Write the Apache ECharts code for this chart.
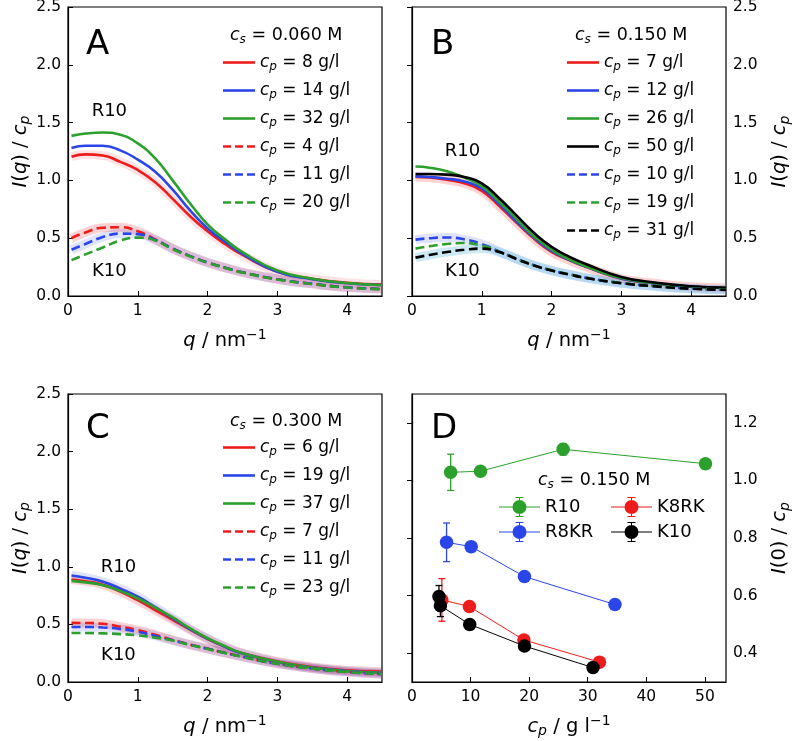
<!DOCTYPE html>
<html>
<head>
<meta charset="utf-8">
<script src="https://cdn.jsdelivr.net/npm/echarts@6/dist/echarts.min.js"></script>
<style>html,body{margin:0;padding:0;background:#fff}#c{width:793px;height:741px}</style>
</head>
<body>
<div id="c"></div>
<script>
// ---------------- DATA ----------------
const q = [0.05, 0.25, 0.5, 0.75, 1.0, 1.25, 1.5, 1.75, 2.0, 2.25, 2.5, 3.0, 3.5, 4.0, 4.5];

// Panel A, cs = 0.060 M
const A_cs = '0.060';
const A_R10_cp = [8, 14, 32];
const A_R10_red   = [1.205,1.225,1.215,1.16,1.09,0.985,0.84,0.69,0.56,0.45,0.355,0.21,0.15,0.115,0.10];
const A_R10_blue  = [1.28,1.30,1.30,1.26,1.18,1.075,0.92,0.74,0.585,0.47,0.365,0.21,0.145,0.11,0.095];
const A_R10_green = [1.385,1.405,1.415,1.394,1.32,1.19,1.00,0.80,0.62,0.49,0.38,0.22,0.15,0.112,0.093];
const A_K10_cp = [4, 11, 20];
const A_K10_red   = [0.50,0.55,0.59,0.595,0.56,0.49,0.41,0.345,0.29,0.245,0.205,0.145,0.105,0.075,0.06];
const A_K10_blue  = [0.40,0.45,0.51,0.54,0.535,0.485,0.41,0.345,0.29,0.245,0.205,0.145,0.105,0.075,0.06];
const A_K10_green = [0.31,0.36,0.42,0.48,0.505,0.48,0.405,0.343,0.288,0.243,0.203,0.143,0.103,0.073,0.058];

// Panel B, cs = 0.150 M
const B_cs = '0.150';
const B_R10_cp = [7, 12, 26, 50];
const B_R10_red   = [1.03,1.025,1.005,0.975,0.91,0.778,0.633,0.495,0.382,0.31,0.25,0.15,0.108,0.08,0.07];
const B_R10_blue  = [1.035,1.03,1.015,0.99,0.93,0.795,0.645,0.505,0.39,0.315,0.252,0.152,0.108,0.08,0.07];
const B_R10_green = [1.12,1.11,1.08,1.025,0.95,0.815,0.665,0.515,0.40,0.318,0.255,0.155,0.11,0.08,0.07];
const B_R10_black = [1.055,1.055,1.05,1.03,0.975,0.845,0.695,0.545,0.425,0.34,0.275,0.165,0.115,0.085,0.072];
const B_K10_cp = [10, 19, 31];
const B_K10_blue  = [0.488,0.50,0.506,0.49,0.45,0.385,0.322,0.265,0.222,0.188,0.157,0.112,0.085,0.065,0.055];
const B_K10_green = [0.41,0.43,0.45,0.458,0.435,0.383,0.322,0.265,0.222,0.188,0.157,0.112,0.085,0.065,0.055];
const B_K10_black = [0.332,0.355,0.38,0.40,0.41,0.38,0.32,0.263,0.22,0.186,0.155,0.11,0.083,0.063,0.053];

// Panel C, cs = 0.300 M
const C_cs = '0.300';
const C_R10_cp = [6, 19, 37];
const C_R10_red   = [0.89,0.875,0.845,0.785,0.71,0.625,0.54,0.455,0.373,0.305,0.25,0.178,0.13,0.102,0.09];
const C_R10_blue  = [0.925,0.905,0.87,0.81,0.74,0.65,0.555,0.46,0.377,0.305,0.247,0.172,0.125,0.095,0.08];
const C_R10_green = [0.878,0.865,0.84,0.79,0.725,0.645,0.56,0.465,0.38,0.31,0.25,0.175,0.125,0.093,0.08];
const C_K10_cp = [7, 11, 23];
const C_K10_red   = [0.513,0.512,0.505,0.48,0.45,0.41,0.365,0.325,0.29,0.253,0.22,0.16,0.118,0.088,0.07];
const C_K10_blue  = [0.478,0.478,0.473,0.46,0.435,0.40,0.362,0.323,0.288,0.252,0.219,0.159,0.117,0.087,0.069];
const C_K10_green = [0.425,0.425,0.422,0.416,0.405,0.385,0.36,0.322,0.287,0.251,0.218,0.158,0.116,0.086,0.068];

// Panel D, cs = 0.150 M, I(0)/cp vs cp
const D_cs = '0.150';
const D_R10_cp  = [6.6, 11.7, 25.8, 50.1];
const D_R10_I0  = [1.028, 1.032, 1.108, 1.058];
const D_R10_err = [0.063, 0, 0.02, 0];
const D_R8KR_cp  = [5.9, 10.1, 19.2, 34.65];
const D_R8KR_I0  = [0.785, 0.77, 0.666, 0.569];
const D_R8KR_err = [0.067, 0, 0, 0];
const D_K8RK_cp  = [5.1, 9.8, 19.1, 32.0];
const D_K8RK_I0  = [0.585, 0.562, 0.446, 0.369];
const D_K8RK_err = [0.074, 0, 0, 0];
const D_K10_cp  = [4.6, 4.85, 9.85, 19.2, 30.9];
const D_K10_I0  = [0.597, 0.565, 0.50, 0.425, 0.35];
const D_K10_err = [0.038, 0.038, 0, 0, 0];

const qTicksMax = 4.5, IqMax = 2.5;
const cpMax = 53.6, I0Min = 0.3, I0Max = 1.3;

// ---------------- STYLE ----------------
const FONT = 'DejaVu Sans';
const COL = {red: '#ee1c1c', blue: '#2b46e8', green: '#2ca02c', black: '#000000'};
const DASH = [9, 4.5];
const ICON_SOLID = 'path://M0 0H32V2.6H0Z';
const ICON_DASH = 'path://M0 0H8V2.6H0Z M12 0H20V2.6H12Z M24 0H32V2.6H24Z';

function richSet(size) {
  return {
    i:   {fontFamily: FONT, fontStyle: 'italic', fontWeight: 'normal', fontSize: size, color: '#000'},
    n:   {fontFamily: FONT, fontWeight: 'normal', fontSize: size, color: '#000'},
    sub: {fontFamily: FONT, fontStyle: 'italic', fontWeight: 'normal', fontSize: Math.round(size * 0.7), padding: [Math.round(size*0.5), 0, 0, 0], color: '#000'},
    sup: {fontFamily: FONT, fontWeight: 'normal', fontSize: Math.round(size * 0.7), padding: [0, 0, Math.round(size*0.55), 0], color: '#000'}
  };
}
const cpLabel = v => '{i|c}{sub|p}{n| = ' + v + ' g/l}';
const csLabel = v => '{i|c}{sub|s}{n| = ' + v + ' M}';

const GRIDS = [
  {left: 68, top: 7, width: 314, height: 289},
  {left: 412, top: 7, width: 314, height: 289},
  {left: 68, top: 394, width: 314, height: 288},
  {left: 412, top: 394, width: 314, height: 288}
];

const labelNames = {};
const series = [];
const legends = [];

function zip(xs, ys) { return xs.map((x, i) => [x, ys[i]]); }

function addCurve(panel, gi, cp, dashed, color, vals, band) {
  const name = panel + (dashed ? 'K' : 'R') + cp;
  labelNames[name] = cpLabel(cp);
  const data = zip(q, vals);
  if (band) {
    series.push({
      type: 'line', name: name + '_band', xAxisIndex: gi, yAxisIndex: gi, data: data,
      smooth: 0.5, symbol: 'none', silent: true, z: 1,
      lineStyle: {color: band[0], width: 9, opacity: band[1]}, itemStyle: {color: band[0]}
    });
  }
  series.push({
    type: 'line', name: name, xAxisIndex: gi, yAxisIndex: gi, data: data,
    smooth: 0.5, symbol: 'none', showSymbol: false, z: 3,
    lineStyle: {color: color, width: 2.6, type: dashed ? DASH : 'solid'},
    itemStyle: {color: color}
  });
  return {name: name, icon: dashed ? ICON_DASH : ICON_SOLID};
}

function addPanel(panel, gi, solidCp, solidSets, dashCp, dashSets, legendLeft, legendTop) {
  const items = [];
  solidSets.forEach((s, k) => items.push(addCurve(panel, gi, solidCp[k], false, s[0], s[1], s[2])));
  dashSets.forEach((s, k) => items.push(addCurve(panel, gi, dashCp[k], true, s[0], s[1], s[2])));
  legends.push({
    data: items, orient: 'vertical', left: legendLeft, top: legendTop, padding: 0,
    itemWidth: 32, itemHeight: 14, itemGap: 9, selectedMode: false,
    formatter: n => labelNames[n],
    textStyle: {fontFamily: FONT, fontSize: 17, color: '#000', rich: richSet(17)}
  });
}

const PINK = [COL.red, 0.2], LBLUE = [COL.blue, 0.15], CYAN = ['#6fc3df', 0.35];
addPanel('A', 0, A_R10_cp,
  [[COL.red, A_R10_red, [COL.red, 0.12]], [COL.blue, A_R10_blue, null], [COL.green, A_R10_green, null]],
  A_K10_cp,
  [[COL.red, A_K10_red, PINK], [COL.blue, A_K10_blue, LBLUE], [COL.green, A_K10_green, null]], 223, 54);
addPanel('B', 1, B_R10_cp,
  [[COL.red, B_R10_red, PINK], [COL.blue, B_R10_blue, null], [COL.green, B_R10_green, null], [COL.black, B_R10_black, null]],
  B_K10_cp,
  [[COL.blue, B_K10_blue, LBLUE], [COL.green, B_K10_green, null], [COL.black, B_K10_black, CYAN]], 567, 54);
addPanel('C', 2, C_R10_cp,
  [[COL.red, C_R10_red, PINK], [COL.blue, C_R10_blue, LBLUE], [COL.green, C_R10_green, null]],
  C_K10_cp,
  [[COL.red, C_K10_red, PINK], [COL.blue, C_K10_blue, LBLUE], [COL.green, C_K10_green, null]], 223, 439);

// Panel D
const errPath = 'path://M0 9.5H41V10.5H0Z M20 0H21V20H20Z M16.5 0H24.5V1H16.5Z M16.5 19H24.5V20H16.5Z M13.5 10A7 7 0 1 1 27.5 10A7 7 0 1 1 13.5 10Z';
function addD(name, color, cps, vals, errs, z) {
  series.push({
    type: 'line', name: name, xAxisIndex: 3, yAxisIndex: 3, data: zip(cps, vals),
    symbol: 'circle', symbolSize: 13.5, z: z,
    lineStyle: {color: color, width: 1}, itemStyle: {color: color}
  });
  const ed = cps.map((c, i) => [c, vals[i] - errs[i], vals[i] + errs[i]]).filter((d, i) => errs[i] > 0);
  series.push({
    type: 'custom', name: name + '_err', xAxisIndex: 3, yAxisIndex: 3, data: ed, z: z, silent: true,
    renderItem: function (params, api) {
      const x = api.value(0);
      const lo = api.coord([x, api.value(1)]);
      const hi = api.coord([x, api.value(2)]);
      const st = {stroke: color, lineWidth: 1.3};
      return {type: 'group', children: [
        {type: 'line', shape: {x1: lo[0], y1: lo[1], x2: hi[0], y2: hi[1]}, style: st},
        {type: 'line', shape: {x1: lo[0] - 3.5, y1: lo[1], x2: lo[0] + 3.5, y2: lo[1]}, style: st},
        {type: 'line', shape: {x1: hi[0] - 3.5, y1: hi[1], x2: hi[0] + 3.5, y2: hi[1]}, style: st}
      ]};
    }
  });
}
addD('R10', COL.green, D_R10_cp, D_R10_I0, D_R10_err, 4);
addD('R8KR', COL.blue, D_R8KR_cp, D_R8KR_I0, D_R8KR_err, 5);
addD('K8RK', COL.red, D_K8RK_cp, D_K8RK_I0, D_K8RK_err, 6);
addD('K10', COL.black, D_K10_cp, D_K10_I0, D_K10_err, 7);

const dLegendBase = {
  orient: 'vertical', padding: 0, itemWidth: 41, itemHeight: 20, itemGap: 5, selectedMode: false,
  icon: errPath,
  textStyle: {fontFamily: FONT, fontSize: 18, color: '#000'}
};
legends.push(Object.assign({}, dLegendBase, {data: ['R10', 'R8KR'], left: 499, top: 497}));
legends.push(Object.assign({}, dLegendBase, {data: ['K8RK', 'K10'], left: 611, top: 497}));

// R10 / K10 annotations (data coordinates)
const annot = [
  [0, 0.6, 1.59, 'R10'], [0, 0.6, 0.205, 'K10'],
  [1, 0.73, 1.245, 'R10'], [1, 0.73, 0.205, 'K10'],
  [2, 0.73, 0.99, 'R10'], [2, 0.73, 0.23, 'K10']
];
[0, 1, 2].forEach(gi => {
  series.push({
    type: 'scatter', xAxisIndex: gi, yAxisIndex: gi, symbolSize: 1, silent: true, z: 10,
    itemStyle: {color: 'rgba(0,0,0,0)'},
    data: annot.filter(a => a[0] === gi).map(a => [a[1], a[2], a[3]]),
    label: {show: true, position: [0, 0], align: 'center', verticalAlign: 'middle',
            formatter: p => p.data[2], fontFamily: FONT, fontSize: 18, fontWeight: 'normal',
            color: '#000', opacity: 1, textBorderWidth: 0}
  });
});

// ---------------- AXES ----------------
const tick = {show: true, inside: true, length: 5, lineStyle: {color: '#000', width: 1}};
const axLine = {show: true, lineStyle: {color: '#000', width: 1.2}};
const lab = {fontFamily: FONT, fontSize: 15.5, color: '#000'};

function qAxis(gi) {
  return {
    type: 'value', gridIndex: gi, min: 0, max: qTicksMax, interval: 1,
    axisLine: axLine, axisTick: tick, splitLine: {show: false},
    axisLabel: Object.assign({margin: 7, showMaxLabel: false, formatter: v => String(v)}, lab),
    name: '{i|q}{n| / nm}{sup|−1}', nameLocation: 'middle', nameGap: 32,
    nameTextStyle: {rich: richSet(19.5)}
  };
}
function iqAxis(gi, right) {
  return {
    type: 'value', gridIndex: gi, min: 0, max: IqMax, interval: 0.5, position: right ? 'right' : 'left',
    axisLine: axLine, axisTick: tick, splitLine: {show: false},
    axisLabel: Object.assign({margin: 7, formatter: v => v.toFixed(1)}, lab),
    name: '{i|I}{n|(}{i|q}{n|) / }{i|c}{sub|p}', nameLocation: 'middle', nameRotate: 90,
    nameGap: right ? 42 : 35,
    nameTextStyle: {rich: richSet(19.5)}
  };
}

const letterStyle = {fontFamily: FONT, fontSize: 34, fontWeight: 'normal', color: '#000'};
const option = {
  animation: false,
  backgroundColor: '#fff',
  grid: GRIDS.map(g => Object.assign({show: true, borderColor: '#000', borderWidth: 1.2,
    backgroundColor: 'transparent', containLabel: false, outerBoundsMode: 'none'}, g)),
  xAxis: [qAxis(0), qAxis(1), qAxis(2), {
    type: 'value', gridIndex: 3, min: 0, max: cpMax, interval: 10,
    axisLine: axLine, axisTick: tick, splitLine: {show: false},
    axisLabel: Object.assign({margin: 7, showMaxLabel: false, formatter: v => String(v)}, lab),
    name: '{i|c}{sub|p}{n| / g l}{sup|−1}', nameLocation: 'middle', nameGap: 32,
    nameTextStyle: {rich: richSet(19.5)}
  }],
  yAxis: [iqAxis(0, false), iqAxis(1, true), iqAxis(2, false), {
    type: 'value', gridIndex: 3, min: I0Min, max: I0Max, splitNumber: 5, position: 'right',
    axisLine: axLine, axisTick: tick, splitLine: {show: false},
    axisLabel: Object.assign({margin: 7, showMinLabel: false, showMaxLabel: false, formatter: v => v.toFixed(1)}, lab),
    name: '{i|I}{n|(0) / }{i|c}{sub|p}', nameLocation: 'middle', nameRotate: 90, nameGap: 42,
    nameTextStyle: {rich: richSet(19.5)}
  }],
  title: [
    {text: 'A', left: 86, top: 28, padding: 0, textStyle: letterStyle},
    {text: 'B', left: 431, top: 28, padding: 0, textStyle: letterStyle},
    {text: 'C', left: 86, top: 412, padding: 0, textStyle: letterStyle},
    {text: 'D', left: 431, top: 412, padding: 0, textStyle: letterStyle},
    {text: csLabel(A_cs), left: 230, top: 25, padding: 0, textStyle: {fontWeight: 'normal', rich: richSet(17.5)}},
    {text: csLabel(B_cs), left: 575, top: 25, padding: 0, textStyle: {fontWeight: 'normal', rich: richSet(17.5)}},
    {text: csLabel(C_cs), left: 230, top: 411, padding: 0, textStyle: {fontWeight: 'normal', rich: richSet(17.5)}},
    {text: csLabel(D_cs), left: 538, top: 470, padding: 0, textStyle: {fontWeight: 'normal', rich: richSet(17.5)}}
  ],
  legend: legends,
  series: series
};

const chart = echarts.init(document.getElementById('c'), null, {renderer: 'canvas'});
chart.setOption(option);
</script>
</body>
</html>
